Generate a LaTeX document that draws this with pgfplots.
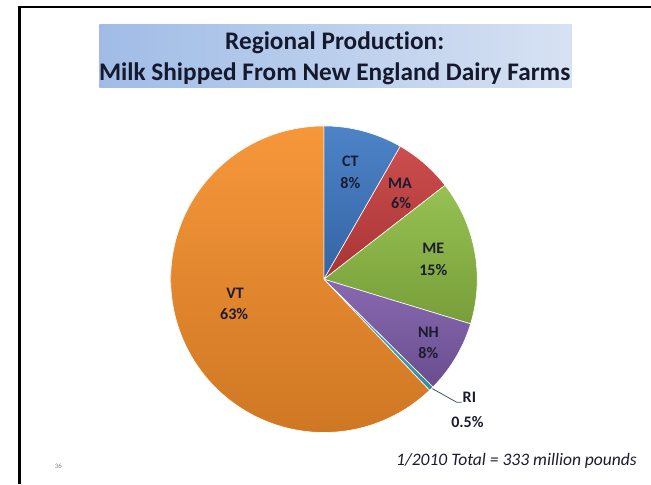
\documentclass[border=0pt]{standalone}
\usepackage{pgfplots}
\pgfplotsset{compat=1.18}
\usepackage{pgfplotstable}
\usepackage{fontspec}
\setmainfont{Carlito}[Ligatures=NoCommon]
\definecolor{ctblue}{RGB}{62,120,195}
\definecolor{mared}{RGB}{200,62,62}
\definecolor{megreen}{RGB}{142,188,68}
\definecolor{nhpurple}{RGB}{126,92,170}
\definecolor{riteal}{RGB}{70,165,190}
\definecolor{vtorange}{RGB}{246,142,42}
\definecolor{labtext}{RGB}{28,28,48}
\definecolor{titletext}{RGB}{20,25,45}
\definecolor{boxleft}{RGB}{160,188,230}
\definecolor{boxright}{RGB}{215,226,243}

\pgfplotstableread{
state share
CT 8.3
MA 6.2
ME 15.2
NH 7.7
RI 0.5
VT 62.1
}\sharetable

\begin{document}
\pgfplotstablegetelem{0}{share}\of\sharetable \let\sCT\pgfplotsretval
\pgfplotstablegetelem{1}{share}\of\sharetable \let\sMA\pgfplotsretval
\pgfplotstablegetelem{2}{share}\of\sharetable \let\sME\pgfplotsretval
\pgfplotstablegetelem{3}{share}\of\sharetable \let\sNH\pgfplotsretval
\pgfplotstablegetelem{4}{share}\of\sharetable \let\sRI\pgfplotsretval
\pgfplotstablegetelem{5}{share}\of\sharetable \let\sVT\pgfplotsretval
\pgfmathsetmacro\aA{3.6*\sCT}
\pgfmathsetmacro\aB{\aA+3.6*\sMA}
\pgfmathsetmacro\aC{\aB+3.6*\sME}
\pgfmathsetmacro\aD{\aC+3.6*\sNH}
\pgfmathsetmacro\aE{\aD+3.6*\sRI}
\pgfmathsetmacro\aF{\aE+3.6*\sVT}
\newcommand{\slice}[3]{%
  \addplot[top color=#3!92!white, bottom color=#3!84!black, draw=white, line width=0.6pt,
    domain=#1:#2, samples=80, variable=\t]
    ({316+157*sin(\t)},{286-157*cos(\t)}) -- (axis cs:316,286) -- cycle;
}
\begin{tikzpicture}
\begin{axis}[name=ax, width=651bp, height=496bp, scale only axis,
  xmin=0, xmax=651, ymin=0, ymax=496, y dir=reverse, hide axis, clip=false]
\fill[white] (axis cs:0,0) rectangle (axis cs:651,496);
\draw[black, line width=2.5bp] (axis cs:4,496) -- (axis cs:4,7) -- (axis cs:651,7);
\shade[left color=boxleft, right color=boxright] (axis cs:86,25) rectangle (axis cs:570,90);
\node[anchor=base, font=\bfseries\fontsize{26}{30}\selectfont, text=titletext] at (axis cs:327,51) {Regional Production:};
\node[anchor=base, font=\bfseries\fontsize{26}{30}\selectfont, text=titletext] at (axis cs:327,82) {Milk Shipped From New England Dairy Farms};

\slice{0}{\aA}{ctblue}
\slice{\aA}{\aB}{mared}
\slice{\aB}{\aC}{megreen}
\slice{\aC}{\aD}{nhpurple}
\slice{\aD}{\aE}{riteal}
\slice{\aE}{\aF}{vtorange}

\begin{scope}[every node/.style={font=\bfseries\fontsize{16.5}{19}\selectfont, text=labtext}]
\node at (axis cs:343,165) {CT};
\node at (axis cs:343,187) {8\%};
\node at (axis cs:394,188) {MA};
\node at (axis cs:395,208) {6\%};
\node at (axis cs:428,254) {ME};
\node at (axis cs:428,277) {15\%};
\node at (axis cs:423,340) {NH};
\node at (axis cs:423,362) {8\%};
\node at (axis cs:225,300) {VT};
\node at (axis cs:224,322) {63\%};
\node at (axis cs:465,407) {RI};
\node at (axis cs:463,432) {0.5\%};
\end{scope}
\draw[color={rgb,255:red,60;green,80;blue,100}, line width=0.8pt] (axis cs:427,398) -- (axis cs:452,412) -- (axis cs:457,412);

\node[anchor=east, font=\itshape\fontsize{18}{21}\selectfont, text=labtext] at (axis cs:640,472) {1/2010 Total = 333 million pounds};
\node[font=\fontsize{7}{8}\selectfont, text=gray] at (axis cs:44,478) {36};
\end{axis}
\pgfresetboundingbox
\path (ax.south west) rectangle (ax.north east);
\end{tikzpicture}
\end{document}
